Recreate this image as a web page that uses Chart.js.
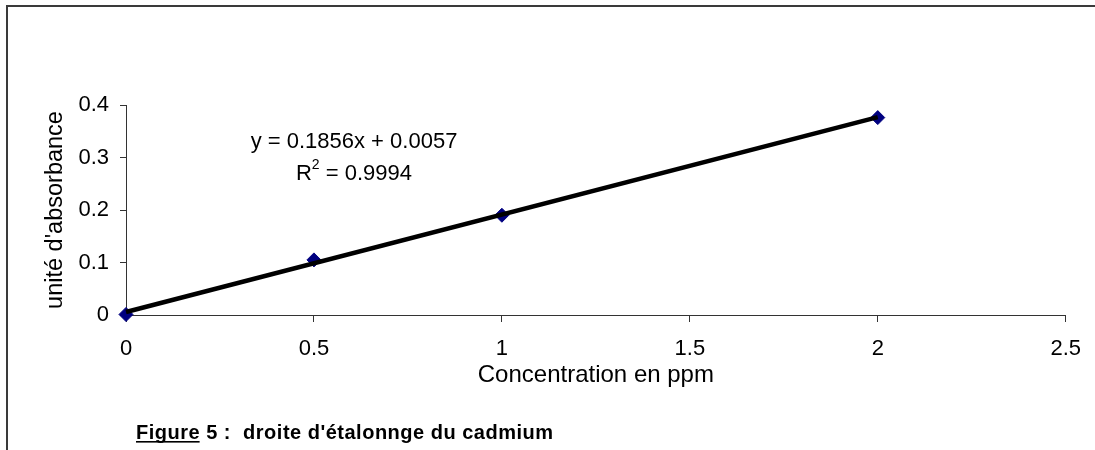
<!DOCTYPE html>
<html>
<head>
<meta charset="utf-8">
<title>droite d'étalonnage du cadmium</title>
<script src="https://cdn.jsdelivr.net/npm/chart.js@4/dist/chart.umd.min.js"></script>
<style>
    body { margin: 0; background: #fff; }
    canvas { display: block; }
</style>
</head>
<body>
<canvas id="chart" width="1095" height="450"></canvas>
<script>
// concentrations (ppm) and measured absorbance
const concentrations = [0, 0.5, 1, 2];
const absorbances = [0.001, 0.105, 0.19, 0.376];

// linear trendline end points (y = 0.1856x + 0.0057)
const trendX = [0, 2];
const trendY = [0.0057, 0.3769];

const xTicks = [0, 0.5, 1, 1.5, 2, 2.5];
const yTicks = [0, 0.1, 0.2, 0.3, 0.4];

const FONT = "'Liberation Sans', Arial, sans-serif";
Chart.defaults.font.family = FONT;
Chart.defaults.font.size = 22;
Chart.defaults.color = '#000';

// frame, equation and figure caption
const decorations = {
    id: 'decorations',
    afterDraw(chart) {
        const ctx = chart.ctx;
        ctx.save();
        ctx.strokeStyle = '#3a3a3a';
        ctx.lineWidth = 2;
        ctx.beginPath();
        ctx.moveTo(7, 450);
        ctx.lineTo(7, 6);
        ctx.lineTo(1095, 6);
        ctx.stroke();

        ctx.fillStyle = '#000';
        ctx.textAlign = 'center';
        ctx.textBaseline = 'alphabetic';
        ctx.font = '22px ' + FONT;
        ctx.fillText('y = 0.1856x + 0.0057', 354, 148);

        // R² with superscript
        const r = 'R', rest = ' = 0.9994';
        ctx.font = '22px ' + FONT;
        const wR = ctx.measureText(r).width, wRest = ctx.measureText(rest).width;
        ctx.font = '14px ' + FONT;
        const wSup = ctx.measureText('2').width;
        let x = 354 - (wR + wSup + wRest) / 2;
        ctx.textAlign = 'left';
        ctx.font = '22px ' + FONT;
        ctx.fillText(r, x, 180);
        ctx.font = '14px ' + FONT;
        ctx.fillText('2', x + wR, 169);
        ctx.font = '22px ' + FONT;
        ctx.fillText(rest, x + wR + wSup, 180);

        // caption
        ctx.font = 'bold 20px ' + FONT;
        ctx.letterSpacing = '0.5px';
        const fig = 'Figure';
        const wFig = ctx.measureText(fig).width;
        ctx.fillText(fig, 136, 439);
        ctx.fillText(' 5 :  droite d\'étalonnge du cadmium', 136 + wFig, 439);
        ctx.fillRect(136, 441, wFig - 0.5, 1.6);
        ctx.restore();
    }
};

new Chart(document.getElementById('chart'), {
    type: 'scatter',
    data: {
        datasets: [{
            label: 'Tendance',
            data: trendX.map((x, i) => ({x: x, y: trendY[i]})),
            showLine: true,
            borderColor: '#000',
            borderWidth: 4.5,
            pointRadius: 0,
            clip: false,
            order: 0
        }, {
            label: 'Absorbance',
            data: concentrations.map((x, i) => ({x: x, y: absorbances[i]})),
            pointStyle: 'rectRot',
            pointRadius: 7,
            backgroundColor: '#000080',
            borderColor: '#000080',
            borderWidth: 1,
            clip: false,
            order: 1
        }]
    },
    options: {
        responsive: false,
        animation: false,
        devicePixelRatio: 1,
        layout: { padding: { left: 0, right: 27, top: 105, bottom: 0 } },
        plugins: {
            legend: { display: false },
            tooltip: { enabled: false }
        },
        scales: {
            x: {
                type: 'linear',
                min: 0,
                max: 2.5,
                afterBuildTicks: s => { s.ticks = xTicks.map(v => ({value: v})); },
                afterFit: s => { s.height = 135; },
                grid: { drawOnChartArea: false, color: '#333', tickLength: 7 },
                border: { color: '#333', width: 1 },
                ticks: { padding: 14, maxRotation: 0, callback: v => String(v) },
                title: {
                    display: true,
                    text: 'Concentration en ppm',
                    font: { size: 24 },
                    padding: { top: 0, bottom: 60.5 }
                }
            },
            y: {
                type: 'linear',
                min: 0,
                max: 0.4,
                afterBuildTicks: s => { s.ticks = yTicks.map(v => ({value: v})); },
                afterFit: s => { s.width = 126; },
                grid: { drawOnChartArea: false, color: '#333', tickLength: 6 },
                border: { color: '#333', width: 1 },
                ticks: { padding: 11, callback: v => String(v) },
                title: {
                    display: true,
                    text: "unité d'absorbance",
                    font: { size: 23.5 },
                    padding: { top: 41, bottom: 0 }
                }
            }
        }
    },
    plugins: [decorations]
});
</script>
</body>
</html>
